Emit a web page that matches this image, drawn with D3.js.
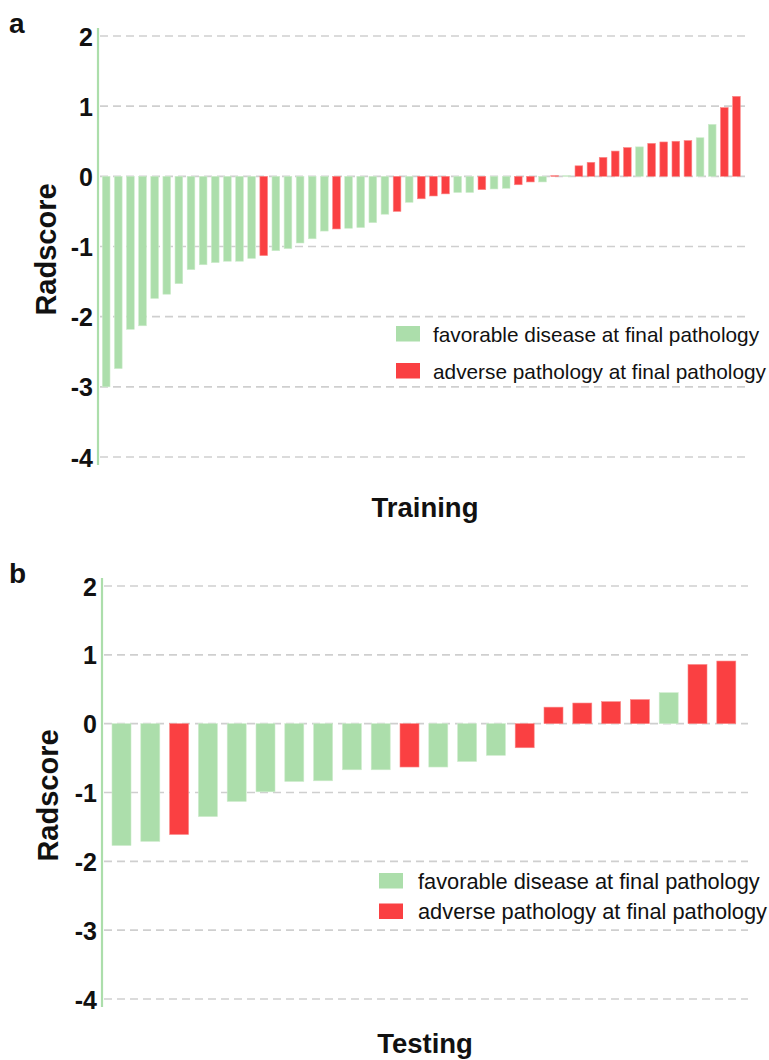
<!DOCTYPE html>
<html>
<head>
<meta charset="utf-8">
<script src="https://cdn.jsdelivr.net/npm/d3@7"></script>
<style>
  html, body { margin: 0; padding: 0; background: #fff; }
  svg { display: block; font-family: "Liberation Sans", Arial, sans-serif; }
</style>
</head>
<body>
<svg id="chart" width="769" height="1060"></svg>
<script>
// Radscore per patient, sorted ascending; status: 0 = favorable, 1 = adverse
const trainingScores = [
  -3.00, -2.74, -2.18, -2.13, -1.74, -1.68, -1.53, -1.33, -1.26, -1.23,
  -1.21, -1.21, -1.17, -1.13, -1.06, -1.03, -0.95, -0.89, -0.78, -0.75,
  -0.74, -0.73, -0.66, -0.54, -0.50, -0.37, -0.32, -0.28, -0.25, -0.23,
  -0.23, -0.19, -0.18, -0.17, -0.12, -0.08, -0.08, 0.01, 0.01, 0.15,
  0.20, 0.27, 0.36, 0.41, 0.42, 0.47, 0.49, 0.50, 0.51, 0.55,
  0.74, 0.98, 1.14
];
const trainingStatus = [
  0, 0, 0, 0, 0, 0, 0, 0, 0, 0,
  0, 0, 0, 1, 0, 0, 0, 0, 0, 1,
  0, 0, 0, 0, 1, 0, 1, 1, 1, 0,
  0, 1, 0, 0, 1, 1, 0, 1, 0, 1,
  1, 1, 1, 1, 0, 1, 1, 1, 1, 0,
  0, 1, 1
];
const testingScores = [
  -1.77, -1.71, -1.61, -1.35, -1.13, -0.99, -0.84, -0.83, -0.67, -0.67,
  -0.63, -0.63, -0.55, -0.46, -0.35, 0.24, 0.30, 0.32, 0.35, 0.45,
  0.86, 0.91
];
const testingStatus = [
  0, 0, 1, 0, 0, 0, 0, 0, 0, 0,
  1, 0, 0, 0, 1, 1, 1, 1, 1, 0,
  1, 1
];
const yTicks = [2, 1, 0, -1, -2, -3, -4];
const legendLabels = ["favorable disease at final pathology", "adverse pathology at final pathology"];

const GREEN = "#acdeab";
const RED = "#fa4042";
const FONT = '"Liberation Sans", Arial, sans-serif';

const svg = d3.select("#chart");
const color = d3.scaleOrdinal().domain([0, 1]).range([GREEN, RED]);

function panel(cfg) {
  const g = svg.append("g");
  const y = d3.scaleLinear().domain([-4, 2]).range([cfg.yBottom, cfg.yTop]);
  const x = d3.scaleBand()
    .domain(d3.range(cfg.scores.length))
    .range([cfg.barLeft, cfg.barRight])
    .paddingInner(cfg.padIn)
    .paddingOuter(cfg.padIn / 2);

  // dashed horizontal grid
  g.append("g").selectAll("line").data(yTicks).join("line")
    .attr("x1", cfg.axisX + 2).attr("x2", cfg.gridRight)
    .attr("y1", d => y(d)).attr("y2", d => y(d))
    .attr("stroke", "#cfcfcf").attr("stroke-width", 1.6)
    .attr("stroke-dasharray", "8,5");

  // bars
  g.append("g").selectAll("rect").data(cfg.scores).join("rect")
    .attr("x", (d, i) => x(i))
    .attr("width", x.bandwidth())
    .attr("y", d => y(Math.max(0, d)))
    .attr("height", d => Math.max(0.8, Math.abs(y(d) - y(0))))
    .attr("fill", (d, i) => color(cfg.status[i]))
    .attr("stroke", (d, i) => cfg.status[i] ? "#fb8a8a" : "#cdeccc")
    .attr("stroke-width", 0.6);

  // y axis
  const axis = g.append("g")
    .attr("transform", `translate(${cfg.axisX},0)`)
    .call(d3.axisLeft(y).tickValues(yTicks).tickSize(0).tickPadding(cfg.tickPad).tickFormat(d => String(d)));
  axis.select(".domain").remove();
  axis.selectAll("text")
    .attr("font-family", FONT).attr("font-size", 25).attr("font-weight", "bold")
    .attr("fill", "#111").attr("dy", "0.36em");
  g.append("line")
    .attr("x1", cfg.axisX).attr("x2", cfg.axisX)
    .attr("y1", y(2) - 8).attr("y2", y(-4) + 8)
    .attr("stroke", GREEN).attr("stroke-width", 2.2);

  // axis titles
  g.append("text")
    .attr("transform", `translate(${cfg.titleX},${(y(2) + y(-4)) / 2 + 3}) rotate(-90)`)
    .attr("text-anchor", "middle")
    .attr("font-family", FONT).attr("font-size", 29).attr("font-weight", "bold")
    .attr("fill", "#111")
    .text("Radscore");
  g.append("text")
    .attr("x", 425).attr("y", cfg.xTitleY)
    .attr("text-anchor", "middle")
    .attr("font-family", FONT).attr("font-size", 27.5).attr("font-weight", "bold")
    .attr("fill", "#111")
    .text(cfg.xTitle);

  // panel letter
  g.append("text")
    .attr("x", 9).attr("y", cfg.letterY)
    .attr("font-family", FONT).attr("font-size", 28).attr("font-weight", "bold")
    .attr("fill", "#111")
    .text(cfg.letter);

  // legend
  const lg = g.append("g");
  legendLabels.forEach((lab, i) => {
    const top = cfg.legY[i];
    lg.append("rect")
      .attr("x", cfg.legX).attr("y", top)
      .attr("width", 24).attr("height", 15.5)
      .attr("fill", color(i));
    lg.append("text")
      .attr("x", cfg.legX + cfg.legGap).attr("y", top + 15.5)
      .attr("font-family", FONT).attr("font-size", cfg.legFont)
      .attr("fill", "#111")
      .text(lab);
  });
}

panel({
  scores: trainingScores, status: trainingStatus,
  yTop: 36, yBottom: 457, axisX: 98, gridRight: 750,
  barLeft: 100.1, barRight: 742.5, padIn: 0.365,
  tickPad: 5, titleX: 56, xTitle: "Training", xTitleY: 517,
  letter: "a", letterY: 33,
  legX: 396, legY: [326, 363], legGap: 37, legFont: 20.8
});

panel({
  scores: testingScores, status: testingStatus,
  yTop: 586, yBottom: 999, axisX: 102, gridRight: 748,
  barLeft: 107.1, barRight: 740.7, padIn: 0.34,
  tickPad: 5, titleX: 58, xTitle: "Testing", xTitleY: 1053,
  letter: "b", letterY: 583,
  legX: 379, legY: [873, 903.5], legGap: 39, legFont: 21.8
});
</script>
</body>
</html>
